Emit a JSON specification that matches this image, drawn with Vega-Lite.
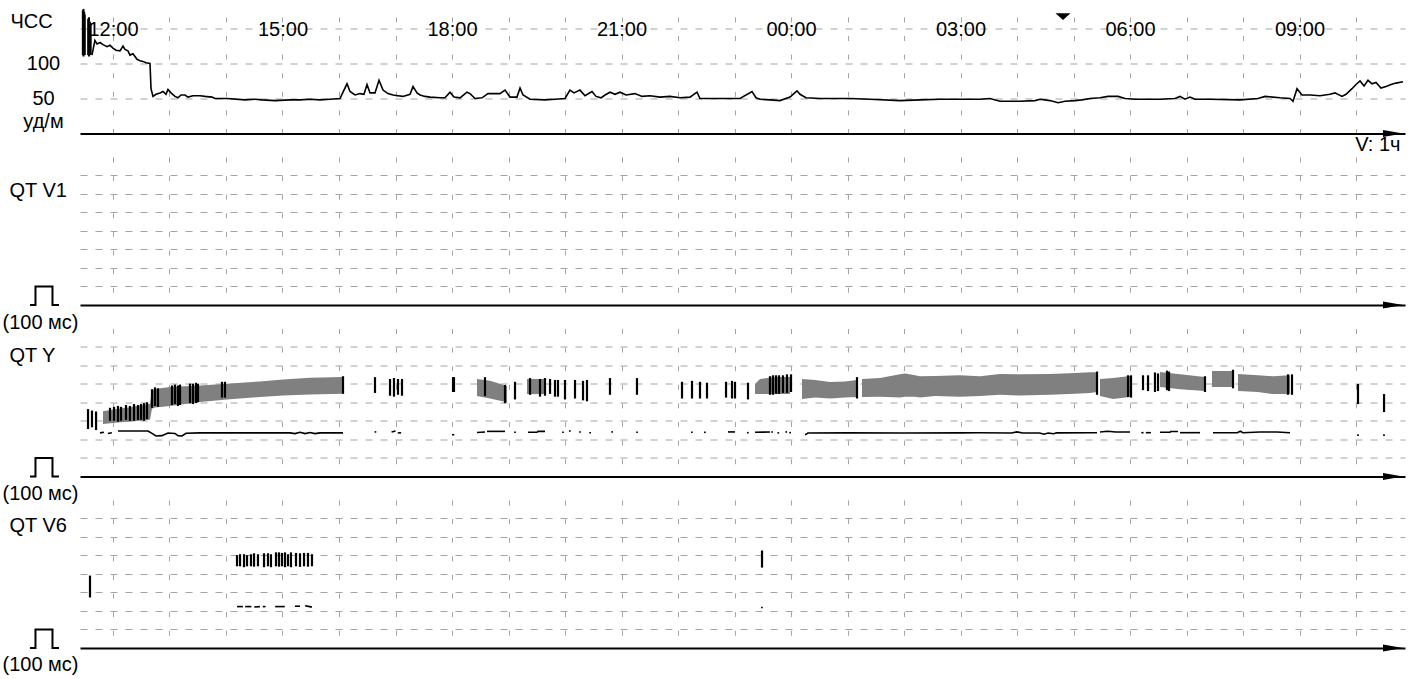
{
  "$schema": "https://vega.github.io/schema/vega-lite/v6.json",
  "padding": {"left": 2, "top": 7.5, "right": 5, "bottom": 2},
  "background": "#ffffff",
  "bounds": "flush",
  "spacing": 23.5,
  "config": {
    "view": {"stroke": null},
    "font": "Liberation Sans",
    "axis": {
      "labelFont": "Liberation Sans", "labelFontSize": 20, "labelColor": "#000000",
      "titleFont": "Liberation Sans", "titleFontSize": 20, "titleFontWeight": "normal", "titleColor": "#000000",
      "gridColor": "#a4a4a4", "gridWidth": 1, "domainColor": "#000000", "domainWidth": 2,
      "ticks": false, "tickSize": 0
    },
    "axisX": {"gridDash": [5, 13.6]},
    "axisY": {"gridDash": [7, 8]}
  },
  "datasets": {
    "hr": [
      {"t":11.628,"v":112},{"t":11.68,"v":133},{"t":11.717,"v":128},{"t":11.77,"v":130},{"t":11.823,"v":127},{"t":11.894,"v":124},{"t":11.947,"v":126},{"t":12.0,"v":122},{"t":12.053,"v":119},{"t":12.124,"v":118},{"t":12.177,"v":125},{"t":12.212,"v":120},{"t":12.265,"v":118},{"t":12.3,"v":112},{"t":12.354,"v":114},{"t":12.425,"v":106},{"t":12.478,"v":104},{"t":12.531,"v":103},{"t":12.584,"v":101},{"t":12.655,"v":100},{"t":12.673,"v":64},{"t":12.708,"v":53},{"t":12.761,"v":56},{"t":12.832,"v":58},{"t":12.885,"v":60},{"t":12.938,"v":56},{"t":12.973,"v":63},{"t":13.027,"v":58},{"t":13.097,"v":53},{"t":13.15,"v":51},{"t":13.204,"v":55},{"t":13.274,"v":55},{"t":13.327,"v":52},{"t":13.416,"v":54},{"t":13.54,"v":54},{"t":13.628,"v":53},{"t":13.752,"v":52},{"t":13.805,"v":50},{"t":14.018,"v":50},{"t":14.336,"v":48},{"t":14.513,"v":49},{"t":14.637,"v":48},{"t":14.867,"v":47},{"t":15.133,"v":48},{"t":15.31,"v":48},{"t":15.487,"v":49},{"t":15.664,"v":48},{"t":15.841,"v":49},{"t":16.018,"v":50},{"t":16.088,"v":62},{"t":16.142,"v":71},{"t":16.195,"v":60},{"t":16.283,"v":55},{"t":16.372,"v":57},{"t":16.442,"v":56},{"t":16.496,"v":70},{"t":16.549,"v":58},{"t":16.637,"v":58},{"t":16.708,"v":76},{"t":16.779,"v":62},{"t":16.867,"v":57},{"t":16.956,"v":55},{"t":17.044,"v":54},{"t":17.133,"v":53},{"t":17.257,"v":56},{"t":17.31,"v":67},{"t":17.381,"v":58},{"t":17.434,"v":55},{"t":17.522,"v":53},{"t":17.611,"v":52},{"t":17.788,"v":51},{"t":17.876,"v":51},{"t":17.965,"v":59},{"t":18.035,"v":52},{"t":18.142,"v":51},{"t":18.265,"v":59},{"t":18.319,"v":57},{"t":18.407,"v":50},{"t":18.531,"v":51},{"t":18.637,"v":57},{"t":18.85,"v":57},{"t":18.938,"v":62},{"t":19.027,"v":52},{"t":19.15,"v":52},{"t":19.204,"v":65},{"t":19.257,"v":55},{"t":19.381,"v":49},{"t":19.646,"v":48},{"t":19.823,"v":49},{"t":20.0,"v":50},{"t":20.088,"v":62},{"t":20.159,"v":58},{"t":20.265,"v":62},{"t":20.354,"v":54},{"t":20.478,"v":60},{"t":20.549,"v":53},{"t":20.637,"v":51},{"t":20.708,"v":55},{"t":20.796,"v":59},{"t":20.885,"v":56},{"t":20.973,"v":59},{"t":21.08,"v":55},{"t":21.239,"v":57},{"t":21.363,"v":53},{"t":21.504,"v":54},{"t":21.681,"v":52},{"t":21.858,"v":53},{"t":22.035,"v":51},{"t":22.212,"v":52},{"t":22.336,"v":59},{"t":22.389,"v":50},{"t":22.743,"v":50},{"t":23.097,"v":50},{"t":23.31,"v":60},{"t":23.381,"v":51},{"t":23.451,"v":49},{"t":23.628,"v":48},{"t":23.805,"v":47},{"t":23.982,"v":52},{"t":24.106,"v":61},{"t":24.159,"v":56},{"t":24.265,"v":51},{"t":24.513,"v":50},{"t":25.044,"v":50},{"t":25.398,"v":49},{"t":25.929,"v":47},{"t":26.283,"v":48},{"t":26.637,"v":49},{"t":26.991,"v":49},{"t":27.345,"v":49},{"t":27.522,"v":50},{"t":27.699,"v":46},{"t":28.053,"v":46},{"t":28.319,"v":47},{"t":28.407,"v":49},{"t":28.584,"v":47},{"t":28.726,"v":44},{"t":28.85,"v":46},{"t":29.027,"v":47},{"t":29.15,"v":48},{"t":29.292,"v":50},{"t":29.469,"v":51},{"t":29.611,"v":53},{"t":29.788,"v":53},{"t":29.912,"v":50},{"t":30.088,"v":49},{"t":30.531,"v":49},{"t":30.796,"v":50},{"t":30.885,"v":53},{"t":30.973,"v":49},{"t":31.062,"v":52},{"t":31.15,"v":49},{"t":31.416,"v":49},{"t":31.947,"v":48},{"t":32.265,"v":50},{"t":32.39,"v":53},{"t":32.655,"v":51},{"t":32.832,"v":50},{"t":32.885,"v":46},{"t":32.956,"v":64},{"t":33.044,"v":55},{"t":33.186,"v":55},{"t":33.363,"v":54},{"t":33.54,"v":56},{"t":33.628,"v":58},{"t":33.752,"v":53},{"t":33.823,"v":56},{"t":33.929,"v":64},{"t":34.0,"v":70},{"t":34.071,"v":75},{"t":34.142,"v":68},{"t":34.212,"v":76},{"t":34.283,"v":71},{"t":34.354,"v":73},{"t":34.442,"v":65},{"t":34.531,"v":67},{"t":34.62,"v":70},{"t":34.708,"v":72},{"t":34.832,"v":74}
    ],
    "hrBars": [
      {"t":11.466,"v":112,"v2":176},{"t":11.478,"v":110,"v2":178},{"t":11.49,"v":114,"v2":174},{"t":11.5,"v":112,"v2":170},
      {"t":11.56,"v":112,"v2":164},{"t":11.575,"v":110,"v2":166},{"t":11.59,"v":114,"v2":160},{"t":11.605,"v":112,"v2":158}
    ],
    "marker": [{"t":28.814,"v":167}],
    "arrow": [{"t":34.655,"v":0}],
    "pulse": [
      {"i":1,"t":10.531,"v":0},{"i":2,"t":10.628,"v":0},{"i":3,"t":10.628,"v":100},{"i":4,"t":10.929,"v":100},{"i":5,"t":10.929,"v":0},{"i":6,"t":11.044,"v":0}
    ],
    "qyBand": [
      {"seg":1,"t":11.823,"v":283,"v2":352},{"seg":1,"t":12.035,"v":290,"v2":362},{"seg":1,"t":12.265,"v":295,"v2":372},{"seg":1,"t":12.478,"v":300,"v2":382},{"seg":1,"t":12.655,"v":305,"v2":392},{"seg":1,"t":12.69,"v":365,"v2":465},{"seg":1,"t":12.743,"v":372,"v2":471},{"seg":1,"t":13.009,"v":380,"v2":482},{"seg":1,"t":13.54,"v":401,"v2":490},{"seg":1,"t":14.018,"v":415,"v2":500},{"seg":1,"t":14.602,"v":428,"v2":512},{"seg":1,"t":15.009,"v":436,"v2":522},{"seg":1,"t":15.487,"v":442,"v2":532},{"seg":1,"t":16.071,"v":446,"v2":536},
      {"seg":2,"t":18.442,"v":433,"v2":525},{"seg":2,"t":18.673,"v":420,"v2":515},{"seg":2,"t":18.973,"v":400,"v2":487},
      {"seg":3,"t":19.327,"v":444,"v2":525},{"seg":3,"t":19.646,"v":444,"v2":525},
      {"seg":4,"t":23.363,"v":444,"v2":498},{"seg":4,"t":23.451,"v":444,"v2":525},{"seg":4,"t":23.7,"v":444,"v2":536},{"seg":4,"t":23.982,"v":444,"v2":536},
      {"seg":5,"t":24.195,"v":417,"v2":525},{"seg":5,"t":24.425,"v":425,"v2":520},{"seg":5,"t":24.69,"v":420,"v2":509},{"seg":5,"t":24.956,"v":425,"v2":512},{"seg":5,"t":25.168,"v":428,"v2":520},
      {"seg":6,"t":25.257,"v":428,"v2":525},{"seg":6,"t":25.575,"v":430,"v2":530},{"seg":6,"t":25.929,"v":425,"v2":550},{"seg":6,"t":26.018,"v":430,"v2":555},{"seg":6,"t":26.195,"v":430,"v2":545},{"seg":6,"t":26.283,"v":425,"v2":540},{"seg":6,"t":26.549,"v":433,"v2":541},{"seg":6,"t":26.991,"v":430,"v2":545},{"seg":6,"t":27.345,"v":433,"v2":540},{"seg":6,"t":27.699,"v":440,"v2":552},{"seg":6,"t":28.053,"v":436,"v2":550},{"seg":6,"t":28.584,"v":440,"v2":552},{"seg":6,"t":29.027,"v":445,"v2":558},{"seg":6,"t":29.292,"v":450,"v2":562},{"seg":6,"t":29.416,"v":455,"v2":562},
      {"seg":7,"t":29.469,"v":433,"v2":525},{"seg":7,"t":29.7,"v":417,"v2":530},{"seg":7,"t":30.0,"v":428,"v2":541},
      {"seg":8,"t":30.531,"v":482,"v2":563},{"seg":8,"t":30.885,"v":470,"v2":550},{"seg":8,"t":31.327,"v":460,"v2":536},
      {"seg":9,"t":31.451,"v":482,"v2":568},{"seg":9,"t":31.823,"v":482,"v2":568},
      {"seg":10,"t":31.912,"v":460,"v2":552},{"seg":10,"t":32.265,"v":455,"v2":545},{"seg":10,"t":32.531,"v":444,"v2":540},{"seg":10,"t":32.832,"v":444,"v2":545}
    ],
    "qyBars": [
      {"t":11.558,"v":256,"v2":363},{"t":11.628,"v":265,"v2":355},{"t":11.7,"v":250,"v2":350},
      {"t":11.947,"v":300,"v2":370},{"t":12.018,"v":300,"v2":375},{"t":12.088,"v":295,"v2":380},{"t":12.142,"v":300,"v2":375},{"t":12.23,"v":305,"v2":385},{"t":12.3,"v":300,"v2":380},{"t":12.372,"v":300,"v2":390},{"t":12.442,"v":305,"v2":385},{"t":12.496,"v":305,"v2":390},{"t":12.549,"v":300,"v2":395},{"t":12.602,"v":310,"v2":400},
      {"t":12.69,"v":370,"v2":470},{"t":12.743,"v":380,"v2":480},{"t":12.796,"v":375,"v2":475},
      {"t":13.044,"v":385,"v2":490},{"t":13.097,"v":390,"v2":495},{"t":13.15,"v":380,"v2":490},{"t":13.186,"v":385,"v2":495},
      {"t":13.363,"v":395,"v2":500},{"t":13.416,"v":390,"v2":500},{"t":13.469,"v":395,"v2":505},{"t":13.504,"v":400,"v2":500},
      {"t":13.929,"v":425,"v2":510},{"t":13.982,"v":425,"v2":510},
      {"t":16.071,"v":445,"v2":540},{"t":16.637,"v":450,"v2":535},
      {"t":16.903,"v":435,"v2":525},{"t":16.973,"v":430,"v2":530},{"t":17.044,"v":440,"v2":525},{"t":17.115,"v":435,"v2":525},
      {"t":18.018,"v":455,"v2":535},{"t":18.035,"v":455,"v2":535},
      {"t":18.584,"v":433,"v2":535},{"t":18.938,"v":395,"v2":493},{"t":19.115,"v":415,"v2":510},
      {"t":19.381,"v":440,"v2":530},{"t":19.558,"v":430,"v2":525},{"t":19.646,"v":435,"v2":530},{"t":19.735,"v":445,"v2":525},{"t":19.823,"v":430,"v2":520},{"t":19.876,"v":430,"v2":520},{"t":20.0,"v":415,"v2":520},{"t":20.177,"v":420,"v2":520},{"t":20.319,"v":410,"v2":515},{"t":20.389,"v":405,"v2":520},{"t":20.796,"v":440,"v2":530},{"t":21.274,"v":440,"v2":530},
      {"t":22.071,"v":420,"v2":510},{"t":22.248,"v":420,"v2":515},{"t":22.389,"v":420,"v2":510},{"t":22.513,"v":420,"v2":505},{"t":22.85,"v":425,"v2":510},{"t":22.956,"v":420,"v2":515},{"t":23.009,"v":420,"v2":510},{"t":23.239,"v":415,"v2":505},
      {"t":23.628,"v":440,"v2":540},{"t":23.681,"v":440,"v2":545},{"t":23.735,"v":445,"v2":545},{"t":23.788,"v":445,"v2":545},{"t":23.858,"v":450,"v2":545},{"t":23.929,"v":450,"v2":550},{"t":24.0,"v":455,"v2":550},
      {"t":25.168,"v":420,"v2":535},{"t":29.416,"v":440,"v2":565},
      {"t":29.965,"v":428,"v2":545},{"t":30.018,"v":425,"v2":545},
      {"t":30.23,"v":465,"v2":545},{"t":30.319,"v":460,"v2":545},{"t":30.442,"v":455,"v2":560},{"t":30.496,"v":460,"v2":555},
      {"t":30.655,"v":465,"v2":570},{"t":30.69,"v":460,"v2":565},
      {"t":31.327,"v":455,"v2":540},{"t":31.823,"v":475,"v2":575},
      {"t":32.796,"v":440,"v2":550},{"t":32.867,"v":440,"v2":550},
      {"t":34.035,"v":390,"v2":498},{"t":34.496,"v":347,"v2":444}
    ],
    "qyLow": [
      {"seg":1,"t":11.77,"v":235},{"seg":1,"t":11.84,"v":238},
      {"seg":2,"t":11.91,"v":232},{"seg":2,"t":11.98,"v":236},
      {"seg":3,"t":12.088,"v":245},{"seg":3,"t":12.619,"v":245},{"seg":3,"t":12.69,"v":232},{"seg":3,"t":12.761,"v":218},{"seg":3,"t":12.867,"v":220},{"seg":3,"t":12.973,"v":234},{"seg":3,"t":13.097,"v":232},{"seg":3,"t":13.15,"v":220},{"seg":3,"t":13.221,"v":218},{"seg":3,"t":13.292,"v":233},{"seg":3,"t":13.54,"v":235},{"seg":3,"t":14.018,"v":235},{"seg":3,"t":15.133,"v":235},{"seg":3,"t":15.221,"v":231},{"seg":3,"t":15.31,"v":238},{"seg":3,"t":15.398,"v":231},{"seg":3,"t":15.487,"v":237},{"seg":3,"t":15.575,"v":231},{"seg":3,"t":15.664,"v":235},{"seg":3,"t":16.071,"v":235},
      {"seg":4,"t":16.63,"v":240},{"seg":4,"t":16.66,"v":240},
      {"seg":5,"t":16.93,"v":240},{"seg":5,"t":17.0,"v":245},
      {"seg":6,"t":17.04,"v":235},{"seg":6,"t":17.1,"v":235},
      {"seg":7,"t":18.0,"v":225},{"seg":7,"t":18.04,"v":225},
      {"seg":8,"t":18.442,"v":237},{"seg":8,"t":18.584,"v":240},
      {"seg":9,"t":18.619,"v":243},{"seg":9,"t":18.938,"v":243},
      {"seg":10,"t":19.1,"v":238},{"seg":10,"t":19.13,"v":238},
      {"seg":11,"t":19.345,"v":238},{"seg":11,"t":19.504,"v":238},{"seg":11,"t":19.522,"v":243},{"seg":11,"t":19.646,"v":243},
      {"seg":12,"t":19.95,"v":238},{"seg":12,"t":19.98,"v":238},
      {"seg":13,"t":20.07,"v":245},{"seg":13,"t":20.1,"v":245},
      {"seg":14,"t":20.25,"v":240},{"seg":14,"t":20.28,"v":240},
      {"seg":15,"t":20.43,"v":236},{"seg":15,"t":20.46,"v":236},
      {"seg":16,"t":20.82,"v":240},{"seg":16,"t":20.85,"v":240},
      {"seg":17,"t":21.26,"v":238},{"seg":17,"t":21.29,"v":238},
      {"seg":18,"t":22.23,"v":238},{"seg":18,"t":22.26,"v":238},
      {"seg":19,"t":22.46,"v":238},{"seg":19,"t":22.49,"v":238},
      {"seg":20,"t":22.885,"v":240},{"seg":20,"t":23.009,"v":240},
      {"seg":21,"t":23.22,"v":236},{"seg":21,"t":23.25,"v":236},
      {"seg":22,"t":23.363,"v":238},{"seg":22,"t":23.628,"v":240},
      {"seg":23,"t":23.65,"v":240},{"seg":23,"t":23.68,"v":240},
      {"seg":24,"t":23.76,"v":235},{"seg":24,"t":23.79,"v":235},
      {"seg":25,"t":23.9,"v":240},{"seg":25,"t":23.93,"v":240},
      {"seg":26,"t":23.97,"v":236},{"seg":26,"t":24.0,"v":236},
      {"seg":27,"t":24.248,"v":224},{"seg":27,"t":24.3,"v":234},{"seg":27,"t":25.0,"v":235},{"seg":27,"t":26.0,"v":234},{"seg":27,"t":27.0,"v":235},{"seg":27,"t":27.3,"v":236},{"seg":27,"t":27.9,"v":234},{"seg":27,"t":28.0,"v":240},{"seg":27,"t":28.1,"v":234},{"seg":27,"t":28.4,"v":234},{"seg":27,"t":28.48,"v":228},{"seg":27,"t":28.55,"v":234},{"seg":27,"t":28.65,"v":230},{"seg":27,"t":28.7,"v":235},{"seg":27,"t":29.3,"v":236},{"seg":27,"t":29.416,"v":236},
      {"seg":28,"t":29.469,"v":240},{"seg":28,"t":29.6,"v":244},{"seg":28,"t":29.75,"v":240},{"seg":28,"t":30.0,"v":240},
      {"seg":29,"t":30.2,"v":236},{"seg":29,"t":30.24,"v":236},
      {"seg":30,"t":30.28,"v":236},{"seg":30,"t":30.37,"v":236},
      {"seg":31,"t":30.531,"v":238},{"seg":31,"t":30.708,"v":238},{"seg":31,"t":30.72,"v":242},{"seg":31,"t":30.85,"v":242},
      {"seg":32,"t":30.885,"v":236},{"seg":32,"t":31.239,"v":236},
      {"seg":33,"t":31.469,"v":236},{"seg":33,"t":31.9,"v":236},{"seg":33,"t":31.95,"v":244},{"seg":33,"t":32.0,"v":236},{"seg":33,"t":32.3,"v":240},{"seg":33,"t":32.6,"v":240},{"seg":33,"t":32.832,"v":236},
      {"seg":34,"t":34.02,"v":223},{"seg":34,"t":34.05,"v":223},
      {"seg":35,"t":34.48,"v":223},{"seg":35,"t":34.51,"v":223}
    ],
    "v6Bars": [
      {"t":11.593,"v":272,"v2":390},
      {"t":14.195,"v":440,"v2":500},{"t":14.248,"v":440,"v2":505},{"t":14.319,"v":435,"v2":505},{"t":14.372,"v":440,"v2":500},{"t":14.442,"v":440,"v2":505},{"t":14.496,"v":438,"v2":510},{"t":14.566,"v":440,"v2":505},{"t":14.673,"v":435,"v2":510},{"t":14.743,"v":440,"v2":510},{"t":14.796,"v":435,"v2":505},{"t":14.885,"v":440,"v2":515},{"t":14.938,"v":438,"v2":515},{"t":14.991,"v":440,"v2":512},{"t":15.044,"v":435,"v2":515},{"t":15.097,"v":440,"v2":505},{"t":15.15,"v":435,"v2":515},{"t":15.239,"v":440,"v2":512},{"t":15.31,"v":437,"v2":510},{"t":15.381,"v":440,"v2":512},{"t":15.451,"v":438,"v2":512},{"t":15.522,"v":440,"v2":505},
      {"t":23.487,"v":433,"v2":525}
    ],
    "v6Low": [
      {"seg":1,"t":14.195,"v":223},{"seg":1,"t":14.3,"v":223},
      {"seg":2,"t":14.34,"v":223},{"seg":2,"t":14.45,"v":223},
      {"seg":3,"t":14.5,"v":221},{"seg":3,"t":14.6,"v":223},
      {"seg":4,"t":14.65,"v":223},{"seg":4,"t":14.7,"v":223},
      {"seg":5,"t":14.87,"v":223},{"seg":5,"t":15.04,"v":223},
      {"seg":6,"t":15.22,"v":225},{"seg":6,"t":15.31,"v":225},
      {"seg":7,"t":15.4,"v":228},{"seg":7,"t":15.46,"v":224},{"seg":7,"t":15.52,"v":220},
      {"seg":8,"t":23.47,"v":218},{"seg":8,"t":23.5,"v":218}
    ]
  },
  "vconcat": [
    {
      "width": 1325,
      "height": 126,
      "encoding": {
        "y": {"field": "v", "type": "quantitative", "scale": {"domain": [0, 180], "nice": false},
          "axis": {"values": [17, 50, 100, 150], "grid": true, "gridOpacity": {"condition": {"test": "datum.value < 30", "value": 0}, "value": 1},
            "domain": false, "ticks": false, "labelAlign": "center", "labelBaseline": "middle", "labelPadding": 37,
            "labelExpr": "datum.value == 17 ? 'уд/м' : (datum.value == 150 ? '' : datum.label)", "labelOverlap": false, "labelFlush": false,
            "title": "ЧСС", "titleAngle": 0, "titleX": -70, "titleY": 14, "titleAlign": "left", "titleBaseline": "middle"}}
      },
      "layer": [
        {
          "data": {"name": "hr"},
          "mark": {"type": "line", "color": "#000000", "strokeWidth": 1.6},
          "encoding": {
            "x": {"field": "t", "type": "quantitative", "scale": {"domain": [11.416, 34.867], "nice": false, "zero": false},
              "axis": {"orient": "top", "values": [12,13,14,15,16,17,18,19,20,21,22,23,24,25,26,27,28,29,30,31,32,33,34], "grid": true, "domain": false, "ticks": false,
                "labelExpr": "datum.value % 3 == 0 ? ((datum.value % 24 < 10 ? '0' : '') + (datum.value % 24) + ':00') : ''",
                "labelBaseline": "middle", "labelAlign": "center", "labelPadding": -22, "labelOverlap": false, "labelFlush": false, "labelBound": false, "title": null}}
          }
        },
        {
          "data": {"name": "hrBars"},
          "mark": {"type": "rule", "color": "#000000", "strokeWidth": 2},
          "encoding": {
            "x": {"field": "t", "type": "quantitative", "scale": {"domain": [11.416, 34.867], "nice": false, "zero": false},
              "axis": {"orient": "bottom", "values": [12], "grid": false, "labels": false, "ticks": false, "domain": true,
                "title": "V: 1ч", "titleX": 1320, "titleY": 11, "titleAlign": "right", "titleBaseline": "middle"}},
            "y2": {"field": "v2"}
          }
        },
        {
          "data": {"name": "marker"},
          "mark": {"type": "point", "shape": "M-1,-0.45L1,-0.45L0,0.45Z", "filled": true, "color": "#000000", "opacity": 1, "size": 225},
          "encoding": {
            "x": {"field": "t", "type": "quantitative", "axis": null}
          }
        },
        {
          "data": {"name": "arrow"},
          "mark": {"type": "point", "shape": "M-1,-0.35L1,0L-1,0.35Z", "filled": true, "color": "#000000", "opacity": 1, "size": 400},
          "encoding": {
            "x": {"field": "t", "type": "quantitative", "axis": null}
          }
        }
      ],
      "resolve": {"axis": {"x": "independent"}}
    },
    {
      "width": 1325,
      "height": 148,
      "encoding": {
        "x": {"field": "t", "type": "quantitative", "scale": {"domain": [11.416, 34.867], "nice": false, "zero": false},
          "axis": {"orient": "bottom", "values": [12,13,14,15,16,17,18,19,20,21,22,23,24,25,26,27,28,29,30,31,32,33,34], "grid": true, "labels": false, "ticks": false, "domain": true,
            "title": "(100 мс)", "titleX": -78, "titleY": 17, "titleAlign": "left", "titleBaseline": "middle"}},
        "y": {"field": "v", "type": "quantitative", "scale": {"domain": [0, 797], "nice": false},
          "axis": {"values": [100,200,300,400,500,600,700], "grid": true, "labels": false, "ticks": false, "domain": false,
            "title": "QT V1", "titleAngle": 0, "titleX": -71, "titleY": 33, "titleAlign": "left", "titleBaseline": "middle"}}
      },
      "layer": [
        {"data": {"name": "pulse"}, "mark": {"type": "line", "color": "#000000", "strokeWidth": 2}, "encoding": {"order": {"field": "i", "type": "quantitative"}}},
        {"data": {"name": "arrow"}, "mark": {"type": "point", "shape": "M-1,-0.35L1,0L-1,0.35Z", "filled": true, "color": "#000000", "opacity": 1, "size": 400}}
      ]
    },
    {
      "width": 1325,
      "height": 148,
      "encoding": {
        "x": {"field": "t", "type": "quantitative", "scale": {"domain": [11.416, 34.867], "nice": false, "zero": false},
          "axis": {"orient": "bottom", "values": [12,13,14,15,16,17,18,19,20,21,22,23,24,25,26,27,28,29,30,31,32,33,34], "grid": true, "labels": false, "ticks": false, "domain": true,
            "title": "(100 мс)", "titleX": -78, "titleY": 17, "titleAlign": "left", "titleBaseline": "middle"}},
        "y": {"field": "v", "type": "quantitative", "scale": {"domain": [0, 797], "nice": false},
          "axis": {"values": [100,200,300,400,500,600,700], "grid": true, "labels": false, "ticks": false, "domain": false,
            "title": "QT Y", "titleAngle": 0, "titleX": -71, "titleY": 26.5, "titleAlign": "left", "titleBaseline": "middle"}}
      },
      "layer": [
        {"data": {"name": "qyBand"}, "mark": {"type": "area", "color": "#808080", "opacity": 1}, "encoding": {"y2": {"field": "v2"}, "detail": {"field": "seg", "type": "nominal"}}},
        {"data": {"name": "qyBars"}, "mark": {"type": "rule", "color": "#000000", "strokeWidth": 2.2}, "encoding": {"y2": {"field": "v2"}}},
        {"data": {"name": "qyLow"}, "mark": {"type": "line", "color": "#000000", "strokeWidth": 1.6}, "encoding": {"detail": {"field": "seg", "type": "nominal"}}},
        {"data": {"name": "pulse"}, "mark": {"type": "line", "color": "#000000", "strokeWidth": 2}, "encoding": {"order": {"field": "i", "type": "quantitative"}}},
        {"data": {"name": "arrow"}, "mark": {"type": "point", "shape": "M-1,-0.35L1,0L-1,0.35Z", "filled": true, "color": "#000000", "opacity": 1, "size": 400}}
      ]
    },
    {
      "width": 1325,
      "height": 148,
      "encoding": {
        "x": {"field": "t", "type": "quantitative", "scale": {"domain": [11.416, 34.867], "nice": false, "zero": false},
          "axis": {"orient": "bottom", "values": [12,13,14,15,16,17,18,19,20,21,22,23,24,25,26,27,28,29,30,31,32,33,34], "grid": true, "labels": false, "ticks": false, "domain": true,
            "title": "(100 мс)", "titleX": -78, "titleY": 16, "titleAlign": "left", "titleBaseline": "middle"}},
        "y": {"field": "v", "type": "quantitative", "scale": {"domain": [0, 797], "nice": false},
          "axis": {"values": [100,200,300,400,500,600,700], "grid": true, "labels": false, "ticks": false, "domain": false,
            "title": "QT V6", "titleAngle": 0, "titleX": -71, "titleY": 25, "titleAlign": "left", "titleBaseline": "middle"}}
      },
      "layer": [
        {"data": {"name": "v6Bars"}, "mark": {"type": "rule", "color": "#000000", "strokeWidth": 2.2}, "encoding": {"y2": {"field": "v2"}}},
        {"data": {"name": "v6Low"}, "mark": {"type": "line", "color": "#000000", "strokeWidth": 1.6}, "encoding": {"detail": {"field": "seg", "type": "nominal"}}},
        {"data": {"name": "pulse"}, "mark": {"type": "line", "color": "#000000", "strokeWidth": 2}, "encoding": {"order": {"field": "i", "type": "quantitative"}}},
        {"data": {"name": "arrow"}, "mark": {"type": "point", "shape": "M-1,-0.35L1,0L-1,0.35Z", "filled": true, "color": "#000000", "opacity": 1, "size": 400}}
      ]
    }
  ]
}
